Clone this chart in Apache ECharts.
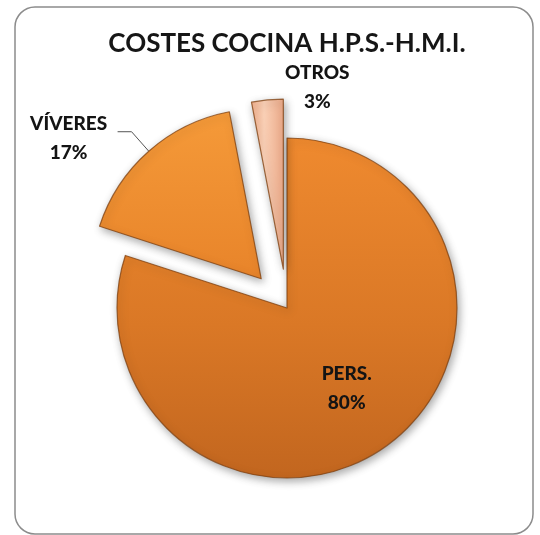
<!DOCTYPE html>
<html>
<head>
<meta charset="utf-8">
<script src="https://cdn.jsdelivr.net/npm/echarts@6/dist/echarts.min.js"></script>
<style>
  html, body { margin: 0; padding: 0; background: #ffffff; }
  #chart { width: 540px; height: 535px; }
</style>
</head>
<body>
<div id="chart"></div>
<script>
// Kitchen cost breakdown (percent of total)
const chartTitle = 'COSTES COCINA H.P.S.-H.M.I.';
const categories = ['PERS.', 'VÍVERES', 'OTROS'];
const shares = [80, 17, 3];
const pulledOut = [false, true, true];

const FONT = 'Lato, "Open Sans", sans-serif';

// fills for each slice: shading to give the slices some depth
const fills = [
  { type: 'linear', x: 0, y: 0, x2: 0, y2: 1, colorStops: [
    { offset: 0, color: '#ef8a2f' }, { offset: 0.55, color: '#da7826' }, { offset: 1, color: '#c2661f' } ] },
  { type: 'linear', x: 0, y: 0, x2: 0, y2: 1, colorStops: [
    { offset: 0, color: '#f59a39' }, { offset: 1, color: '#e8842a' } ] },
  { type: 'linear', x: 0, y: 0, x2: 1, y2: 0, colorStops: [
    { offset: 0, color: '#f2b08c' }, { offset: 0.4, color: '#fad0b6' }, { offset: 1, color: '#eaa887' } ] }
];

const labelPositions = ['inside', 'outside', 'outside'];

const pieData = categories.map((name, i) => ({
  name: name,
  value: shares[i],
  selected: pulledOut[i],
  itemStyle: { color: fills[i] },
  label: { position: labelPositions[i] },
  labelLine: i === 2 ? { show: false, length: 0, length2: 0 } : { show: true, length: 26, length2: 14 }
}));

const chart = echarts.init(document.getElementById('chart'), null, { renderer: 'canvas' });

const labelText = {
  fontFamily: FONT,
  fontWeight: 900,
  fontSize: 19,
  lineHeight: 29,
  color: '#141414'
};

chart.setOption({
  animation: false,
  backgroundColor: '#ffffff',
  graphic: [{
    type: 'rect',
    shape: { x: 15, y: 7, width: 518, height: 527, r: 20 },
    style: { fill: 'none', stroke: '#8c8c8c', lineWidth: 1.5 },
    z: -1
  }],
  title: {
    text: chartTitle,
    left: 282,
    textAlign: 'center',
    top: 26,
    textStyle: { fontFamily: FONT, fontWeight: 'bold', fontSize: 26, color: '#161616' }
  },
  series: [{
    type: 'pie',
    center: [287, 308],
    radius: 170,
    startAngle: 90,
    clockwise: true,
    selectedMode: 'multiple',
    selectedOffset: 39,
    avoidLabelOverlap: false,
    itemStyle: {
      borderColor: 'rgba(125, 62, 12, 0.75)',
      borderWidth: 1.2,
      shadowBlur: 8,
      shadowColor: 'rgba(0, 0, 0, 0.35)',
      shadowOffsetX: 2,
      shadowOffsetY: 3
    },
    label: Object.assign({
      formatter: '{t|{b}}\n{t|{d}%}',
      rich: {
        t: Object.assign({ width: 88, align: 'center' }, labelText)
      }
    }, labelText),
    labelLine: {
      lineStyle: { color: '#555555', width: 1 }
    },
    labelLayout: function (params) {
      if (params.dataIndex === 2) return { dx: 99, dy: -13 };
      if (params.dataIndex === 1) return { dy: 7 };
      return { dx: 8, dy: 9 };
    },
    emphasis: { disabled: true },
    data: pieData
  }]
});
</script>
</body>
</html>
